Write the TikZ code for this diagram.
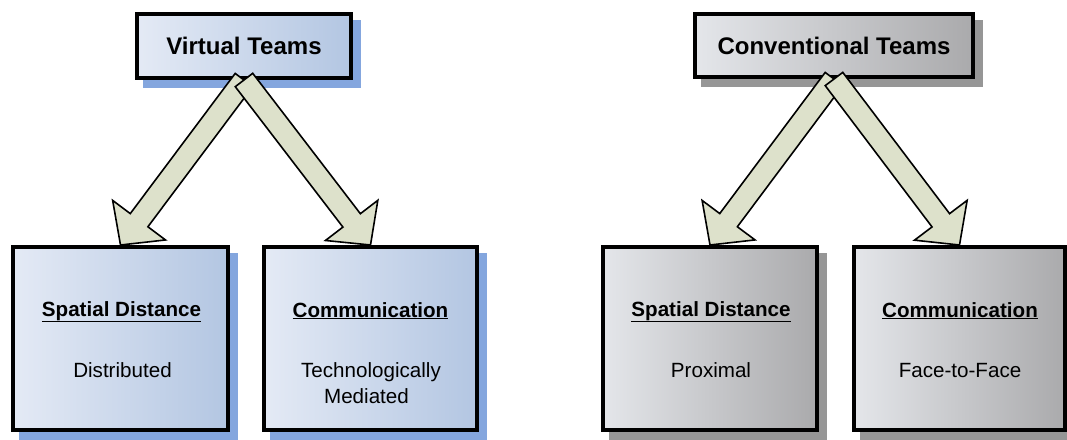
\documentclass[tikz,border=0pt]{standalone}
\usepackage{fontspec}
\setmainfont{Liberation Sans}
\usetikzlibrary{calc,backgrounds}
\definecolor{vblueL}{HTML}{E4EAF5}
\definecolor{vblueR}{HTML}{B3C6E2}
\definecolor{cgrayL}{HTML}{E4E6EA}
\definecolor{cgrayR}{HTML}{AAAAAC}
\definecolor{vshadow}{HTML}{84A6DE}
\definecolor{cshadow}{HTML}{969696}
\definecolor{arrowfill}{HTML}{DDE1CB}
\tikzset{
  box/.style={draw=black, line width=4pt, inner sep=0pt},
  vbox/.style={box, left color=vblueL, right color=vblueR},
  cbox/.style={box, left color=cgrayL, right color=cgrayR},
  bigarrow/.style={draw=black, line width=1.6pt, fill=arrowfill, line join=miter},
  titletext/.style={font=\fontsize{24}{28}\selectfont\bfseries},
  headtext/.style={font=\fontsize{20.6}{26}\selectfont\bfseries, anchor=base},
  bodytext/.style={font=\fontsize{20.6}{26}\selectfont, anchor=base},
}
\newcommand{\blockarrow}[2]{%
  \coordinate (hb) at ($(#2)!31pt!(#1)$);
  \filldraw[bigarrow]
    ($(#1)!11pt!90:(#2)$) -- ($(hb)!11pt!90:(#2)$) -- ($(hb)!33pt!90:(#2)$)
    -- (#2) -- ($(hb)!33pt!-90:(#2)$) -- ($(hb)!11pt!-90:(#2)$)
    -- ($(#1)!11pt!-90:(#2)$) -- cycle;}
\newcommand{\boxshadow}[2]{%
  \fill[#2] ($(#1.north west)+(8,8)$) rectangle ($(#1.south east)+(8,8)$);}
\begin{document}
\begin{tikzpicture}[x=1pt,y=-1pt]
\useasboundingbox (0,0) rectangle (1067,439);
% top boxes
\node[vbox, titletext, minimum width=214pt, minimum height=64pt] (vt) at (244,46) {Virtual Teams};
\node[cbox, titletext, minimum width=278pt, minimum height=63pt] (ct) at (834,45.5) {Conventional Teams};
% bottom boxes
\node[vbox, minimum width=215pt, minimum height=183pt] (vsd) at (120.5,338.5) {};
\node[vbox, minimum width=213pt, minimum height=183pt] (vcm) at (370.5,338.5) {};
\node[cbox, minimum width=214pt, minimum height=183pt] (csd) at (710,338.5) {};
\node[cbox, minimum width=211pt, minimum height=183pt] (ccm) at (959.5,338.5) {};
% shadows
\begin{scope}[on background layer]
  \boxshadow{vt}{vshadow}
  \boxshadow{vsd}{vshadow}
  \boxshadow{vcm}{vshadow}
  \boxshadow{ct}{cshadow}
  \boxshadow{csd}{cshadow}
  \boxshadow{ccm}{cshadow}
\end{scope}
% texts
\node[headtext] (t1) at (121.5,316) {\underline{Spatial Distance}};
\node[bodytext] (t2) at (122.5,377) {Distributed};
\node[headtext] (t3) at (370.5,317) {\underline{Communication}};
\node[bodytext] (t4) at (371,377) {Technologically};
\node[bodytext] (t5) at (366.5,403) {Mediated};
\node[headtext] (t6) at (711,316) {\underline{Spatial Distance}};
\node[bodytext] (t7) at (711,377) {Proximal};
\node[headtext] (t8) at (960,317) {\underline{Communication}};
\node[bodytext] (t9) at (960,377) {Face-to-Face};
% arrows
\blockarrow{vt.south}{vsd.north}
\blockarrow{vt.south}{vcm.north}
\blockarrow{ct.south}{csd.north}
\blockarrow{ct.south}{ccm.north}
\end{tikzpicture}
\end{document}
